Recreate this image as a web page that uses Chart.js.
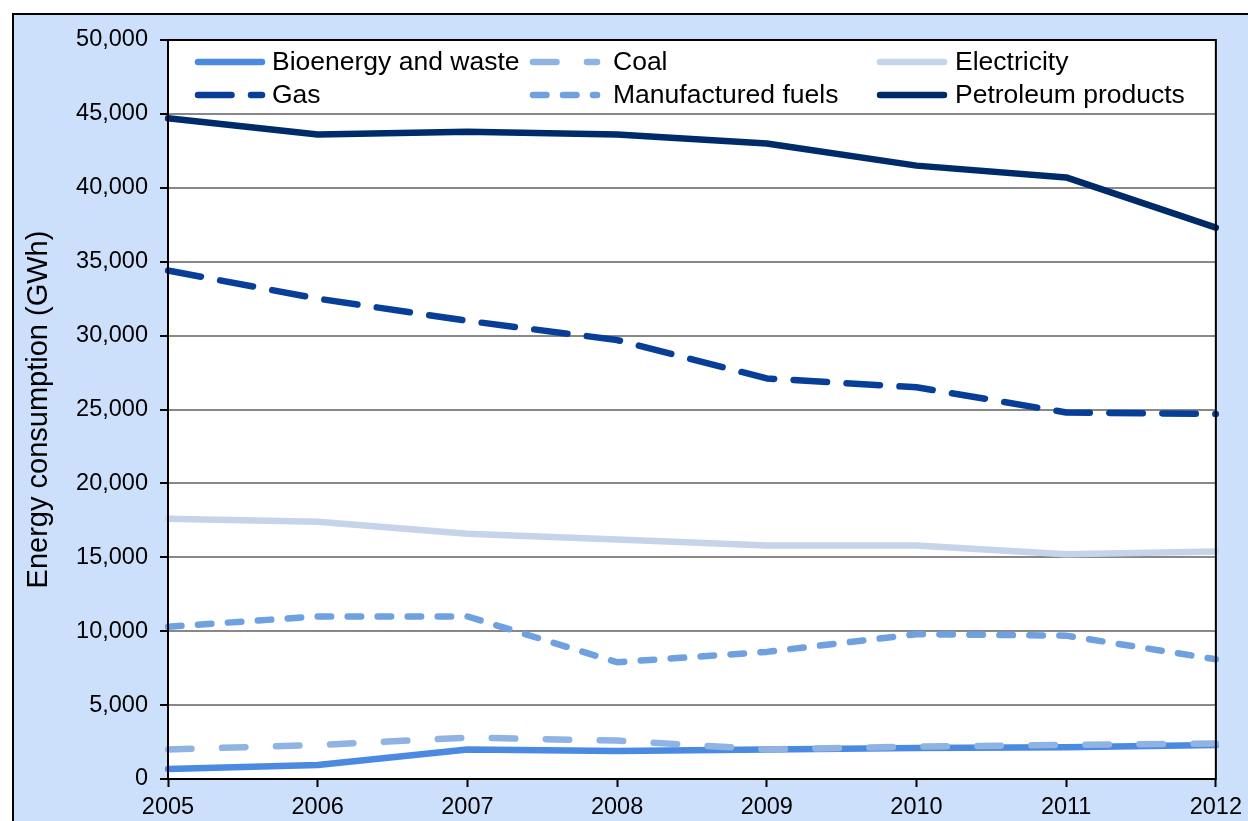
<!DOCTYPE html>
<html>
<head>
<meta charset="utf-8">
<script src="https://cdn.jsdelivr.net/npm/chart.js@4.4.1/dist/chart.umd.min.js"></script>
<style>
html,body{margin:0;padding:0;background:#ffffff;overflow:hidden;width:1248px;height:821px;}
#frame{position:absolute;left:12px;top:13px;width:1260px;height:840px;border:2px solid #000;background:#cce0fc;}
#c{position:absolute;left:0;top:0;}
</style>
</head>
<body>
<div id="frame"></div>
<canvas id="c" width="1248" height="821"></canvas>
<script>
const years = ['2005','2006','2007','2008','2009','2010','2011','2012'];
const bioenergy = [680, 950, 2000, 1900, 2000, 2100, 2150, 2300];
const coal = [2000, 2300, 2800, 2600, 2000, 2200, 2300, 2400];
const electricity = [17600, 17400, 16600, 16200, 15800, 15800, 15200, 15400];
const gas = [34400, 32500, 31000, 29700, 27100, 26500, 24800, 24700];
const manufactured = [10300, 11000, 11000, 7900, 8600, 9800, 9700, 8100];
const petroleum = [44700, 43600, 43800, 43600, 43000, 41500, 40700, 37300];
const seriesNames = ['Bioenergy and waste','Coal','Electricity','Gas','Manufactured fuels','Petroleum products'];
const yTitle = 'Energy consumption (GWh)';

const FONT = '"Liberation Sans", Arial, sans-serif';
const LW = 6.5;
const mk = (label, data, color, dash, order) => ({
  label, data, borderColor: color, backgroundColor: color, borderWidth: LW,
  borderDash: dash, borderCapStyle: 'round', borderJoinStyle: 'round',
  pointRadius: 0, pointHoverRadius: 0, tension: 0, fill: false, order
});
const datasets = [
  mk(seriesNames[0], bioenergy, '#4a8ae0', [], 6),
  mk(seriesNames[1], coal, '#8fb3e3', [23.5, 30.5], 5),
  mk(seriesNames[2], electricity, '#c6d4e9', [], 4),
  mk(seriesNames[3], gas, '#073f98', [33.5, 19.5], 3),
  mk(seriesNames[4], manufactured, '#6fa0e0', [13.5, 16.5], 2),
  mk(seriesNames[5], petroleum, '#002b69', [], 1)
];

const framePlugin = {
  id: 'framePlugin',
  beforeDraw(chart) {
    const a = chart.chartArea, ctx = chart.ctx;
    ctx.save();
    ctx.fillStyle = '#ffffff';
    ctx.fillRect(a.left, a.top, a.right - a.left, a.bottom - a.top);
    ctx.restore();
  },
  afterDatasetsDraw(chart) {
    const a = chart.chartArea, ctx = chart.ctx;
    ctx.save();
    ctx.strokeStyle = '#000';
    ctx.lineWidth = 2;
    ctx.strokeRect(a.left, a.top, a.right - a.left, a.bottom - a.top);
    // legend
    const cols = [195, 530, 877];
    const rows = [62, 95];
    const textX = [272, 613, 955];
    ctx.font = '26.5px ' + FONT;
    ctx.textBaseline = 'middle';
    ctx.fillStyle = '#000';
    chart.data.datasets.forEach((ds, i) => {
      const c = i % 3, x = cols[c], y = rows[Math.floor(i / 3)];
      ctx.save();
      ctx.beginPath();
      ctx.strokeStyle = ds.borderColor;
      ctx.lineWidth = ds.borderWidth;
      ctx.lineCap = 'round';
      ctx.setLineDash(ds.borderDash);
      ctx.moveTo(x + 3, y);
      ctx.lineTo(x + 67, y);
      ctx.stroke();
      ctx.restore();
      ctx.fillText(ds.label, textX[c], y + 1);
    });
    ctx.restore();
  }
};

new Chart(document.getElementById('c'), {
  type: 'line',
  data: { labels: years, datasets },
  options: {
    responsive: false,
    devicePixelRatio: 1,
    animation: false,
    events: [],
    layout: { padding: { top: 40, right: 31, left: 0, bottom: 0 } },
    plugins: { legend: { display: false }, tooltip: { enabled: false }, title: { display: false } },
    scales: {
      x: {
        offset: false,
        grid: { drawOnChartArea: false, drawTicks: true, tickLength: 8, tickColor: '#000', tickWidth: 2 },
        border: { color: '#000', width: 2 },
        ticks: { color: '#000', font: { family: FONT, size: 23.5 }, padding: 6, maxRotation: 0, autoSkip: false },
        afterFit(s) { s.height = 42; }
      },
      y: {
        min: 0, max: 50000,
        grid: { color: '#888888', lineWidth: 2, drawTicks: true, tickLength: 8, tickColor: '#000', tickWidth: 2 },
        border: { color: '#000', width: 2 },
        ticks: {
          stepSize: 5000, color: '#000', font: { family: FONT, size: 23.5 }, padding: 12,
          callback: v => v.toLocaleString('en-US')
        },
        title: { display: true, text: yTitle, color: '#000', font: { family: FONT, size: 29 }, padding: { top: 22, bottom: 0 } },
        afterFit(s) { s.width = 168; }
      }
    }
  },
  plugins: [framePlugin]
});
</script>
</body>
</html>
